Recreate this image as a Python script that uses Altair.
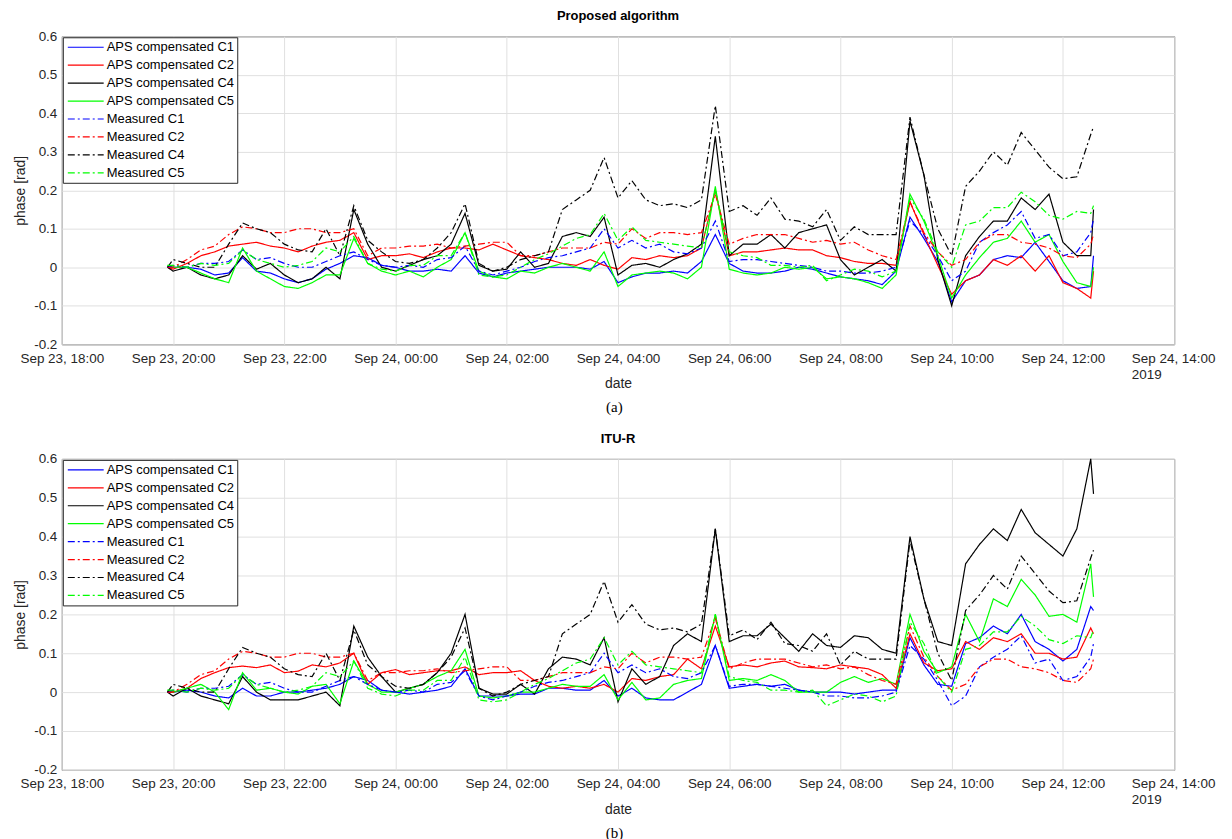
import pandas as pd
import altair as alt

# --- time axis: one early sample, then every 15 min, then the last sample ---
times = (["2019-09-23T19:54"]
         + [t.strftime("%Y-%m-%dT%H:%M") for t in pd.date_range("2019-09-23 20:00", "2019-09-24 12:30", freq="15min")]
         + ["2019-09-24T12:33"])

x_ticks = ["2019-09-23 18:00", "2019-09-23 20:00", "2019-09-23 22:00", "2019-09-24 00:00",
           "2019-09-24 02:00", "2019-09-24 04:00", "2019-09-24 06:00", "2019-09-24 08:00",
           "2019-09-24 10:00", "2019-09-24 12:00", "2019-09-24 14:00"]
y_ticks = [-0.2, -0.1, 0.0, 0.1, 0.2, 0.3, 0.4, 0.5, 0.6]

series_names = ["APS compensated C1", "APS compensated C2", "APS compensated C4", "APS compensated C5",
                "Measured C1", "Measured C2", "Measured C4", "Measured C5"]
# measured colours differ by one unit so that every range entry is unique
series_colors = ["#0000ff", "#ff0000", "#000000", "#00ff00",
                 "#0101fe", "#fe0101", "#010101", "#01fe01"]

# --- measured phases (same in both panels) ---
# rows: first sample, then one row per hour (:00 :15 :30 :45), last row 12:00 12:15 12:30 12:33
meas_c1 = [
    0.0,
    0.005, 0.0, 0.01, 0.01,
    0.015, 0.045, 0.02, 0.025,
    0.01, 0.0, 0.0, 0.015,
    0.03, 0.04, 0.02, 0.005,
    0.0, 0.005, 0.0, 0.02,
    0.025, 0.055, -0.01, -0.02,
    -0.01, 0.0, 0.015, 0.025,
    0.03, 0.04, 0.05, 0.1,
    0.05, 0.07, 0.05, 0.06,
    0.04, 0.035, 0.05, 0.12,
    0.015, 0.02, 0.02, 0.015,
    0.01, 0.005, 0.0, -0.01,
    -0.01, -0.015, -0.015, -0.01,
    0.0, 0.12, 0.085, 0.03,
    -0.035, -0.01, 0.065, 0.09,
    0.11, 0.145, 0.075, 0.085,
    0.03, 0.04, 0.09, 0.125,
]
meas_c2 = [
    0.0,
    0.0, 0.02, 0.045, 0.055,
    0.085, 0.105, 0.1, 0.09,
    0.09, 0.1, 0.1, 0.09,
    0.09, 0.1, 0.03, 0.05,
    0.05, 0.055, 0.055, 0.06,
    0.05, 0.055, 0.06, 0.065,
    0.065, 0.03, 0.03, 0.04,
    0.05, 0.05, 0.05, 0.065,
    0.06, 0.1, 0.075, 0.09,
    0.09, 0.085, 0.09, 0.19,
    0.06, 0.075, 0.085, 0.085,
    0.085, 0.075, 0.065, 0.07,
    0.06, 0.065, 0.045, 0.03,
    0.02, 0.17, 0.09, 0.04,
    0.005, 0.02, 0.065, 0.085,
    0.085, 0.065, 0.06, 0.05,
    0.03, 0.025, 0.06, 0.085,
]
meas_c4 = [
    0.0,
    0.02, 0.01, 0.0, 0.0,
    0.06, 0.115, 0.1, 0.09,
    0.06, 0.045, 0.04, 0.1,
    0.03, 0.16, 0.07, 0.04,
    0.015, 0.01, 0.02, 0.05,
    0.09, 0.165, 0.01, -0.01,
    0.0, 0.02, 0.03, 0.04,
    0.15, 0.175, 0.2, 0.285,
    0.18, 0.225, 0.175, 0.16,
    0.165, 0.155, 0.175, 0.42,
    0.145, 0.16, 0.135, 0.18,
    0.125, 0.12, 0.105, 0.15,
    0.07, 0.105, 0.085, 0.085,
    0.085, 0.39, 0.24, 0.1,
    0.03, 0.21, 0.25, 0.3,
    0.265, 0.35, 0.305, 0.26,
    0.23, 0.235, 0.345, 0.365,
]
meas_c5 = [
    0.005,
    0.005, 0.0, 0.01, 0.005,
    0.01, 0.045, 0.02, 0.01,
    0.0, 0.005, 0.015, 0.05,
    0.04, 0.08, 0.01, -0.005,
    -0.01, 0.005, 0.005, 0.03,
    0.03, 0.09, -0.02, -0.025,
    -0.02, 0.0, 0.02, 0.035,
    0.055, 0.075, 0.085, 0.14,
    0.07, 0.105, 0.07, 0.065,
    0.06, 0.055, 0.05, 0.2,
    0.04, 0.03, 0.025, 0.005,
    0.005, 0.0, 0.005, -0.035,
    -0.02, -0.005, -0.01, -0.025,
    -0.01, 0.18, 0.125, 0.04,
    0.0, 0.11, 0.12, 0.155,
    0.155, 0.195, 0.17, 0.135,
    0.125, 0.145, 0.14, 0.16,
]

# --- (a) proposed algorithm ---
aps_a_c1 = [
    0.0,
    0.0, 0.0, -0.005, -0.02,
    -0.015, 0.025, -0.01, -0.015,
    -0.03, -0.04, -0.03, -0.005,
    0.01, 0.03, 0.025, 0.005,
    0.0, -0.01, -0.01, -0.005,
    -0.01, 0.03, -0.015, -0.025,
    -0.015, -0.01, -0.005, 0.0,
    0.0, 0.0, -0.005, 0.015,
    -0.04, -0.025, -0.015, -0.015,
    -0.01, -0.015, 0.015, 0.085,
    0.01, -0.01, -0.015, -0.015,
    -0.01, 0.0, -0.005, -0.015,
    -0.025, -0.03, -0.035, -0.045,
    -0.01, 0.13, 0.075, 0.015,
    -0.09, -0.035, -0.02, 0.02,
    0.03, 0.025, 0.065, 0.015,
    -0.035, -0.055, -0.05, 0.03,
]
aps_a_c2 = [
    0.0,
    -0.005, 0.01, 0.03, 0.04,
    0.055, 0.06, 0.065, 0.055,
    0.05, 0.04, 0.055, 0.065,
    0.07, 0.09, 0.02, 0.03,
    0.03, 0.035, 0.025, 0.04,
    0.05, 0.05, 0.045, 0.06,
    0.045, 0.03, 0.025, 0.02,
    0.01, 0.005, 0.02, 0.005,
    -0.005, 0.025, 0.02, 0.03,
    0.025, 0.03, 0.05, 0.2,
    0.03, 0.04, 0.04, 0.045,
    0.05, 0.045, 0.045, 0.03,
    0.025, 0.015, 0.01, 0.01,
    0.005, 0.17, 0.085, 0.005,
    -0.07, -0.035, -0.02, 0.02,
    0.005, 0.03, -0.01, 0.03,
    -0.04, -0.055, -0.08, -0.01,
]
aps_a_c4 = [
    0.0,
    -0.01, 0.0, -0.02, -0.03,
    -0.02, 0.03, -0.005, 0.01,
    -0.02, -0.04, -0.03, 0.0,
    -0.03, 0.15, 0.06, 0.0,
    -0.01, 0.005, 0.02, 0.03,
    0.06, 0.14, 0.005, -0.01,
    -0.005, 0.04, 0.0, 0.01,
    0.08, 0.09, 0.08, 0.13,
    -0.02, 0.005, 0.01, 0.0,
    0.02, 0.035, 0.06, 0.34,
    0.03, 0.06, 0.06, 0.085,
    0.05, 0.09, 0.1, 0.11,
    0.02, -0.02, 0.0, 0.02,
    -0.01, 0.38, 0.24, 0.02,
    -0.1, 0.03, 0.08, 0.12,
    0.12, 0.18, 0.15, 0.19,
    0.065, 0.03, 0.03, 0.15,
]
aps_a_c5 = [
    0.005,
    0.0, 0.0, -0.015, -0.03,
    -0.04, 0.05, -0.01, -0.03,
    -0.05, -0.055, -0.04, -0.02,
    -0.02, 0.075, 0.01, -0.01,
    -0.02, -0.01, -0.025, 0.0,
    0.02, 0.09, -0.01, -0.025,
    -0.03, -0.01, -0.015, 0.0,
    0.01, 0.0, -0.01, 0.04,
    -0.05, -0.02, -0.015, -0.01,
    -0.015, -0.03, 0.0, 0.21,
    -0.005, -0.015, -0.02, -0.015,
    0.0, -0.005, 0.0, -0.03,
    -0.025, -0.03, -0.04, -0.055,
    -0.02, 0.19, 0.12, 0.03,
    -0.08, -0.02, 0.025, 0.065,
    0.075, 0.12, 0.065, 0.085,
    0.015, -0.04, -0.05, 0.0,
]

# --- (b) ITU-R ---
aps_b_c1 = [
    0.0,
    0.0, 0.005, 0.0, -0.01,
    -0.015, 0.01, -0.01, -0.01,
    0.0, 0.0, 0.005, 0.01,
    0.02, 0.04, 0.03, 0.005,
    0.0, -0.005, 0.0, 0.005,
    0.015, 0.06, -0.01, -0.01,
    -0.01, -0.005, -0.005, 0.01,
    0.01, 0.005, 0.005, 0.03,
    -0.01, 0.01, -0.015, -0.02,
    -0.02, 0.0, 0.02, 0.12,
    0.01, 0.015, 0.02, 0.015,
    0.02, 0.005, 0.0, 0.0,
    0.0, -0.005, 0.0, 0.005,
    0.005, 0.14, 0.07, 0.02,
    0.015, 0.125, 0.14, 0.17,
    0.15, 0.2, 0.13, 0.11,
    0.08, 0.11, 0.22, 0.21,
]
aps_b_c2 = [
    0.0,
    0.0, 0.01, 0.035, 0.05,
    0.063, 0.067, 0.063, 0.07,
    0.05, 0.054, 0.07, 0.065,
    0.075, 0.1, 0.02, 0.05,
    0.058, 0.045, 0.05, 0.055,
    0.055, 0.065, 0.045, 0.05,
    0.05, 0.055, 0.03, 0.015,
    0.01, 0.015, 0.01, 0.02,
    0.0, 0.035, 0.03, 0.04,
    0.045, 0.085, 0.06, 0.17,
    0.065, 0.07, 0.065, 0.075,
    0.08, 0.065, 0.063, 0.06,
    0.07, 0.065, 0.06, 0.045,
    0.01, 0.15, 0.075, 0.055,
    0.06, 0.13, 0.11, 0.14,
    0.13, 0.15, 0.1, 0.1,
    0.085, 0.09, 0.165, 0.15,
]
aps_b_c4 = [
    0.0,
    -0.01, 0.01, -0.01, -0.02,
    -0.03, 0.04, 0.0, -0.02,
    -0.02, -0.02, -0.01, 0.0,
    -0.035, 0.17, 0.09, 0.04,
    0.0, 0.01, 0.02, 0.05,
    0.1, 0.2, 0.01, -0.005,
    -0.005, 0.02, -0.005, 0.06,
    0.09, 0.085, 0.07, 0.14,
    -0.025, 0.06, 0.02, 0.04,
    0.12, 0.15, 0.13, 0.42,
    0.13, 0.145, 0.145, 0.175,
    0.14, 0.105, 0.15, 0.12,
    0.115, 0.145, 0.14, 0.11,
    0.1, 0.4, 0.24, 0.13,
    0.12, 0.33, 0.38, 0.42,
    0.39, 0.47, 0.41, 0.38,
    0.35, 0.42, 0.6, 0.51,
]
aps_b_c5 = [
    0.005,
    0.0, 0.01, 0.02, 0.0,
    -0.045, 0.05, 0.005, 0.01,
    0.0, -0.005, 0.015, 0.02,
    -0.03, 0.08, 0.02, 0.0,
    0.0, 0.01, 0.02, 0.04,
    0.055, 0.11, -0.01, -0.015,
    -0.01, 0.0, 0.0, 0.01,
    0.02, 0.015, 0.015, 0.045,
    -0.02, 0.025, -0.02, -0.015,
    0.02, 0.03, 0.035, 0.2,
    0.03, 0.035, 0.03, 0.045,
    0.03, 0.0, 0.0, 0.0,
    0.025, 0.04, 0.025, 0.035,
    0.02, 0.2, 0.105, 0.05,
    0.065, 0.2, 0.13, 0.24,
    0.22, 0.29, 0.25, 0.195,
    0.2, 0.18, 0.33, 0.245,
]

FONT = "Liberation Sans"
SOLID = [1, 0]
DASHDOT = [7, 3, 2, 3]
LAST_TICK = "hours(datum.value) == 14"


def to_dt(s):
    t = pd.Timestamp(s)
    return alt.DateTime(year=t.year, month=t.month, date=t.day, hours=t.hour, minutes=t.minute)


def long_table(aps):
    frames = []
    for name, vals in zip(series_names, aps + [meas_c1, meas_c2, meas_c4, meas_c5]):
        frames.append(pd.DataFrame({"date": times, "phase": vals, "series": name}))
    return pd.concat(frames, ignore_index=True)


x_label_expr = (LAST_TICK + " ? [timeFormat(datum.value, '%b %d, %H:%M'), '2019']"
                " : timeFormat(datum.value, '%b %d, %H:%M')")
y_label_expr = "replace(format(datum.value, '.1~f'), '\u2212', '-')"

legend = alt.Legend(
    title=None, orient="top-left", offset=1,
    strokeColor="#262626", fillColor="white", padding=3,
    symbolType="M-3,0L3,0", symbolSize=144, symbolStrokeWidth=1.2,
    symbolOffset=13, labelOffset=14,
    labelFont=FONT, labelFontSize=13, labelColor="#000000", rowPadding=4,
)


def panel(aps, title, caption, height):
    df = long_table(aps)
    lines = alt.Chart(df).mark_line(strokeWidth=1.2).encode(
        x=alt.X("date:T",
                scale=alt.Scale(domain=[to_dt(x_ticks[0]), to_dt(x_ticks[-1])]),
                axis=alt.Axis(values=[to_dt(s) for s in x_ticks], labelExpr=x_label_expr,
                              labelFlush=False, labelOverlap=False, labelLineHeight=16,
                              labelAlign={"condition": {"test": LAST_TICK, "value": "left"},
                                          "value": "center"},
                              labelOffset={"condition": {"test": LAST_TICK, "value": -43},
                                           "value": 0},
                              labelPadding=7, title="date", titlePadding=-4)),
        y=alt.Y("phase:Q",
                scale=alt.Scale(domain=[y_ticks[0], y_ticks[-1]], nice=False, zero=False),
                axis=alt.Axis(values=y_ticks, labelExpr=y_label_expr, title="phase [rad]",
                              labelPadding=5, titlePadding=6)),
        color=alt.Color("series:N", scale=alt.Scale(domain=series_names, range=series_colors),
                        legend=legend),
        strokeDash=alt.StrokeDash("series:N",
                                  scale=alt.Scale(domain=series_names,
                                                  range=[SOLID] * 4 + [DASHDOT] * 4),
                                  legend=legend),
    ).properties(
        width=1116, height=height,
        title=alt.TitleParams(title, font=FONT, fontSize=13, fontWeight="bold",
                              color="#000000", offset=6),
    )
    return alt.vconcat(lines, title=alt.TitleParams(
        caption, orient="bottom", font="Liberation Serif", fontSize=15,
        fontWeight="normal", color="#000000", offset=9, anchor="middle"))


chart = alt.vconcat(
    panel([aps_a_c1, aps_a_c2, aps_a_c4, aps_a_c5], "Proposed algorithm", "(a)", 309),
    panel([aps_b_c1, aps_b_c2, aps_b_c4, aps_b_c5], "ITU-R", "(b)", 312),
    spacing=17,
).resolve_scale(
    color="independent", strokeDash="independent"
).resolve_legend(
    color="independent", strokeDash="independent"
).properties(
    padding={"left": 5, "top": 0, "right": 8, "bottom": 0}
).configure_view(
    stroke="#262626", strokeWidth=1
).configure_axis(
    domain=False, ticks=False,
    grid=True, gridColor="#e0e0e0", gridWidth=1,
    labelFont=FONT, labelFontSize=13.5, labelColor="#262626",
    titleFont=FONT, titleFontSize=14, titleFontWeight="normal", titleColor="#262626",
)

chart.save("out.html", embed_options={"renderer": "svg", "actions": False})
